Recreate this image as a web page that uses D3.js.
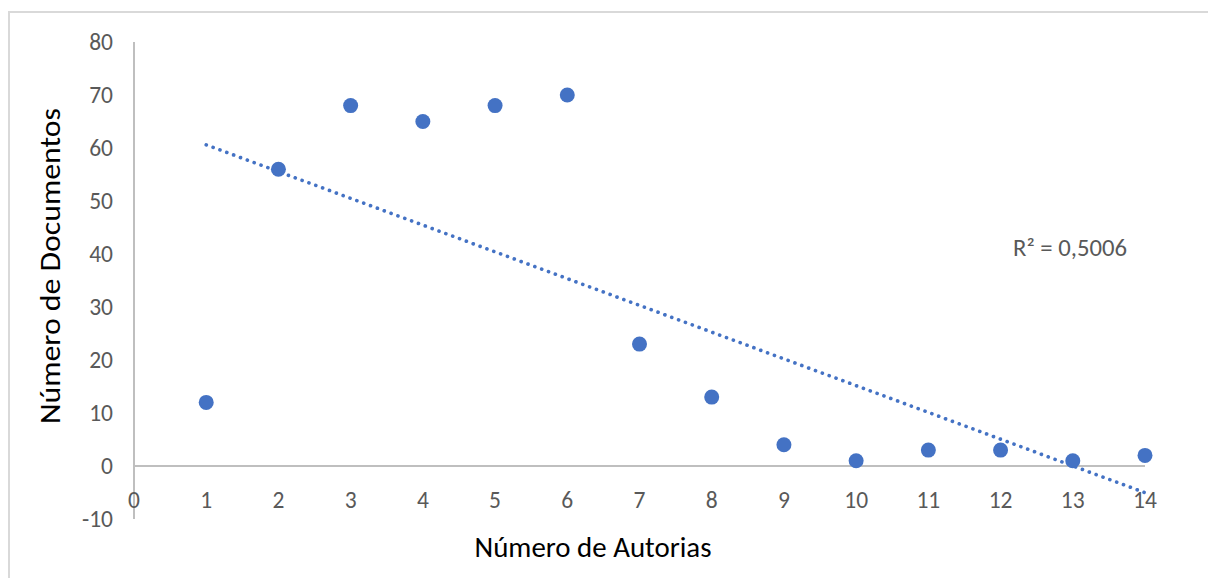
<!DOCTYPE html>
<html><head><meta charset="utf-8">
<script src="https://cdn.jsdelivr.net/npm/d3@7"></script>
<style>body{margin:0;background:#fff}svg{display:block}text{font-family:Calibri,Carlito,Lato,"Open Sans",sans-serif}</style>
</head><body>
<svg id="c" width="1208" height="578"></svg>
<script>
const autorias = [1,2,3,4,5,6,7,8,9,10,11,12,13,14];
const documentos = [12,56,68,65,68,70,23,13,4,1,3,3,1,2];
const xTicks = [0,1,2,3,4,5,6,7,8,9,10,11,12,13,14];
const yTicks = [-10,0,10,20,30,40,50,60,70,80];
const r2Label = "R² = 0,5006";

const svg = d3.select("#c");
svg.append("rect").attr("x",9).attr("y",12).attr("width",1220).attr("height",600)
  .attr("fill","#fff").attr("stroke","#d9d9d9").attr("stroke-width",2);

const x = d3.scaleLinear().domain([0,14]).range([134,1145]);
const y = d3.scaleLinear().domain([-10,80]).range([519,42]);

svg.append("line").attr("x1",x(0)).attr("x2",x(14)).attr("y1",y(0)).attr("y2",y(0))
  .attr("stroke","#bfbfbf").attr("stroke-width",2);
svg.append("line").attr("x1",x(0)).attr("x2",x(0)).attr("y1",y(80)).attr("y2",y(-10))
  .attr("stroke","#bfbfbf").attr("stroke-width",2);

svg.append("g").selectAll("text").data(yTicks).join("text")
  .attr("x",113).attr("y",d=>y(d)).attr("dy","0.36em").attr("text-anchor","end")
  .attr("fill","#595959").attr("font-size",23.5).text(d=>d);
svg.append("g").selectAll("text").data(xTicks).join("text")
  .attr("x",d=>x(d)).attr("y",508).attr("text-anchor","middle")
  .attr("fill","#595959").attr("font-size",23.5).text(d=>d);

const n = autorias.length;
const mx = d3.mean(autorias), my = d3.mean(documentos);
let sxy=0,sxx=0;
for(let i=0;i<n;i++){sxy+=(autorias[i]-mx)*(documentos[i]-my);sxx+=(autorias[i]-mx)**2;}
const b = sxy/sxx, a = my-b*mx;
svg.append("line").attr("x1",x(1)).attr("y1",y(a+b*1)).attr("x2",x(14)).attr("y2",y(a+b*14))
  .attr("stroke","#4472c4").attr("stroke-width",3.6).attr("stroke-linecap","round")
  .attr("stroke-dasharray","0.1 7.2");

svg.append("g").selectAll("circle").data(autorias).join("circle")
  .attr("cx",d=>x(d)).attr("cy",(d,i)=>y(documentos[i])).attr("r",7.5).attr("fill","#4472c4");

svg.append("text").attr("x",1013).attr("y",256).attr("fill","#595959").attr("font-size",24)
  .attr("textLength",114).attr("lengthAdjust","spacingAndGlyphs").text(r2Label);
svg.append("text").attr("x",593).attr("y",557).attr("text-anchor","middle").attr("fill","#000")
  .attr("font-size",29).attr("textLength",237).attr("lengthAdjust","spacingAndGlyphs").text("Número de Autorias");
svg.append("text").attr("transform","translate(60,266) rotate(-90)").attr("text-anchor","middle")
  .attr("fill","#000").attr("font-size",29).attr("textLength",316).attr("lengthAdjust","spacingAndGlyphs").text("Número de Documentos");
</script>
</body></html>
